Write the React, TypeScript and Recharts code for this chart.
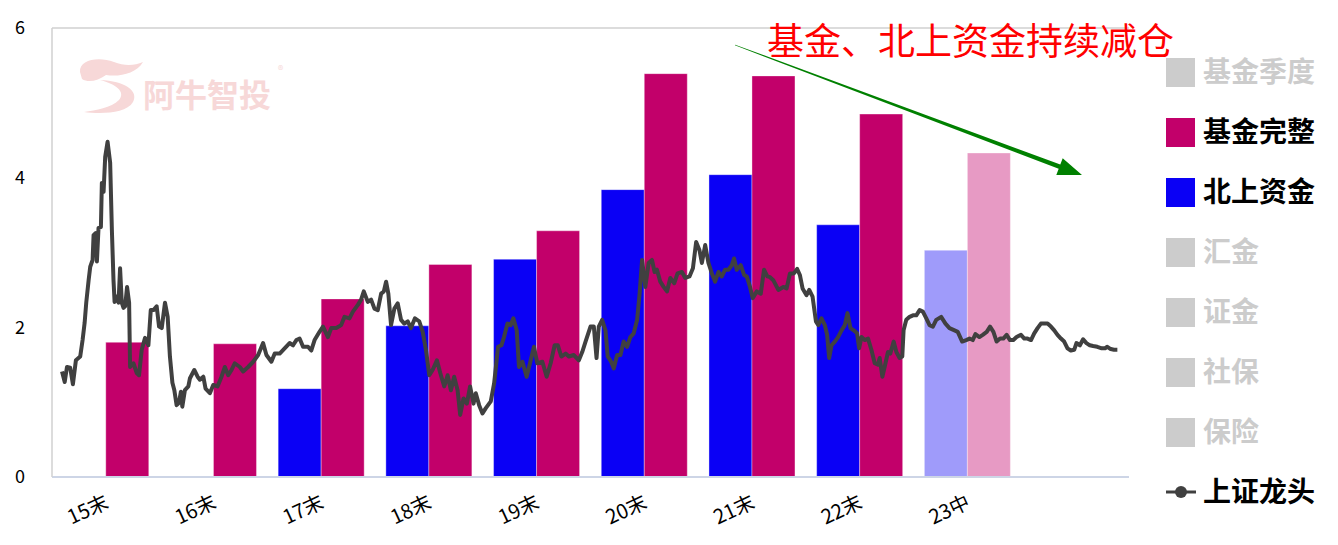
import React from 'react';
import { ComposedChart, Bar, Line, XAxis, YAxis, ReferenceLine, Cell } from 'recharts';

// bar categories (last slot is left empty in the source)
const categories = ['15末', '16末', '17末', '18末', '19末', '20末', '21末', '22末', '23中', ''];
const northbound = [null, null, 1.18, 2.02, 2.91, 3.84, 4.04, 3.37, 3.03, null];
const fundFull = [1.8, 1.78, 2.38, 2.84, 3.29, 5.39, 5.36, 4.85, 4.33, null];
const yTicks = [0, 2, 4, 6];

// 上证龙头: position along the category axis (0 = 15末) and value
const lineT = [
  -0.407, -0.382, -0.361, -0.331, -0.306, -0.278, -0.238, -0.216, -0.197, -0.182,
  -0.16, -0.145, -0.123, -0.114, -0.093, -0.083, -0.068, -0.046, -0.037, -0.021,
  -0.006, 0.016, 0.04, 0.056, 0.071, 0.081, 0.102, 0.118, 0.132, 0.148,
  0.164, 0.179, 0.197, 0.216, 0.225, 0.256, 0.287, 0.308, 0.333, 0.364,
  0.395, 0.417, 0.442, 0.472, 0.494, 0.519, 0.549, 0.574, 0.595, 0.618,
  0.636, 0.657, 0.679, 0.697, 0.71, 0.734, 0.766, 0.781, 0.821, 0.852,
  0.873, 0.905, 0.926, 0.966, 0.997, 1.037, 1.074, 1.105, 1.136, 1.167,
  1.197, 1.244, 1.275, 1.321, 1.368, 1.414, 1.46, 1.491, 1.537, 1.568,
  1.614, 1.66, 1.706, 1.738, 1.769, 1.799, 1.831, 1.877, 1.907, 1.938,
  1.984, 2.016, 2.062, 2.093, 2.139, 2.185, 2.216, 2.262, 2.294, 2.34,
  2.37, 2.395, 2.432, 2.463, 2.494, 2.525, 2.556, 2.581, 2.602, 2.623,
  2.648, 2.679, 2.71, 2.741, 2.771, 2.803, 2.833, 2.87, 2.91, 2.942,
  2.972, 3.003, 3.034, 3.074, 3.105, 3.142, 3.173, 3.204, 3.234, 3.266,
  3.29, 3.321, 3.352, 3.382, 3.414, 3.435, 3.466, 3.497, 3.528, 3.574,
  3.605, 3.642, 3.673, 3.697, 3.729, 3.759, 3.784, 3.815, 3.836, 3.868,
  3.907, 3.938, 3.975, 4.006, 4.053, 4.093, 4.13, 4.167, 4.197, 4.229,
  4.269, 4.299, 4.345, 4.392, 4.423, 4.454, 4.5, 4.531, 4.556, 4.577,
  4.608, 4.639, 4.66, 4.692, 4.716, 4.747, 4.778, 4.808, 4.84, 4.87,
  4.901, 4.933, 4.956, 4.979, 5.009, 5.04, 5.071, 5.095, 5.117, 5.148,
  5.179, 5.21, 5.241, 5.278, 5.308, 5.349, 5.38, 5.419, 5.451, 5.481,
  5.512, 5.534, 5.565, 5.595, 5.627, 5.657, 5.688, 5.719, 5.75, 5.781,
  5.812, 5.833, 5.858, 5.895, 5.926, 5.951, 5.981, 6.006, 6.044, 6.081,
  6.111, 6.142, 6.167, 6.197, 6.244, 6.29, 6.321, 6.352, 6.389, 6.419,
  6.444, 6.469, 6.506, 6.531, 6.562, 6.593, 6.614, 6.645, 6.676, 6.697,
  6.716, 6.738, 6.769, 6.799, 6.831, 6.861, 6.886, 6.914, 6.944, 6.975,
  6.994, 7.016, 7.046, 7.077, 7.108, 7.139, 7.169, 7.185, 7.21, 7.231,
  7.262, 7.284, 7.315, 7.34, 7.37, 7.395, 7.407, 7.432, 7.463, 7.494,
  7.525, 7.556, 7.586, 7.618, 7.648, 7.679, 7.71, 7.756, 7.796, 7.833,
  7.88, 7.91, 7.951, 7.988, 8.019, 8.049, 8.074, 8.111, 8.142, 8.179,
  8.21, 8.241, 8.271, 8.303, 8.333, 8.364, 8.395, 8.426, 8.456, 8.497,
  8.528, 8.558, 8.59, 8.62, 8.651, 8.682, 8.713, 8.744, 8.775, 8.806,
  8.836, 8.868, 8.898, 8.929, 8.96, 8.991, 9.012, 9.044, 9.074, 9.105,
  9.136, 9.167, 9.206, 9.247, 9.278, 9.299, 9.33, 9.361, 9.392,
];
const lineV = [
  1.41, 1.27, 1.47, 1.46, 1.24, 1.56, 1.61, 1.83, 2.06, 2.33,
  2.63, 2.81, 2.9, 3.23, 3.26, 2.88, 3.33, 3.34, 3.93, 3.81,
  4.28, 4.48, 4.2, 3.3, 2.63, 2.34, 2.41, 2.33, 2.79, 2.33,
  2.26, 2.28, 2.54, 2.33, 1.47, 1.52, 1.39, 1.36, 1.7, 1.86,
  1.76, 2.23, 2.23, 2.28, 2.01, 1.99, 2.33, 2.14, 1.61, 1.26,
  1.16, 0.96, 0.99, 1.14, 0.94, 1.16, 1.21, 1.32, 1.43, 1.34,
  1.3, 1.34, 1.18, 1.12, 1.23, 1.21, 1.34, 1.47, 1.36, 1.43,
  1.52, 1.47, 1.41, 1.47, 1.54, 1.63, 1.79, 1.63, 1.54, 1.65,
  1.65, 1.72, 1.79, 1.76, 1.83, 1.85, 1.74, 1.74, 1.69, 1.83,
  1.94, 2.01, 1.87, 1.99, 1.99, 2.03, 2.14, 2.12, 2.21, 2.3,
  2.37, 2.48, 2.34, 2.37, 2.25, 2.23, 2.45, 2.48, 2.61, 2.45,
  2.03, 2.25, 2.32, 2.1, 2.05, 2.08, 1.99, 2.12, 2.08, 1.94,
  1.7, 1.36, 1.43, 1.56, 1.39, 1.21, 1.36, 1.16, 1.34, 1.16,
  0.83, 1.05, 0.98, 1.21, 0.98, 1.12, 0.96, 0.85, 0.92, 1.01,
  1.25, 1.74, 1.76, 1.87, 2.05, 2.03, 2.12, 1.96, 1.47, 1.54,
  1.34, 1.52, 1.74, 1.52, 1.54, 1.34, 1.52, 1.76, 1.76, 1.61,
  1.65, 1.61, 1.63, 1.56, 1.67, 1.81, 2.01, 2.01, 1.59, 2.01,
  2.1, 1.96, 1.61, 1.54, 1.45, 1.63, 1.63, 1.81, 1.74, 1.87,
  1.92, 2.1, 2.45, 2.9, 2.54, 2.86, 2.9, 2.74, 2.77, 2.61,
  2.54, 2.48, 2.66, 2.59, 2.72, 2.74, 2.66, 2.68, 2.79, 3.14,
  3.03, 2.86, 3.1, 2.86, 2.72, 2.61, 2.74, 2.68, 2.77, 2.77,
  2.83, 2.92, 2.77, 2.83, 2.7, 2.68, 2.54, 2.39, 2.48, 2.45,
  2.77, 2.68, 2.67, 2.63, 2.5, 2.54, 2.52, 2.72, 2.72, 2.78,
  2.7, 2.52, 2.43, 2.5, 2.41, 2.08, 2.03, 2.12, 2.03, 1.9,
  1.59, 1.76, 1.81, 1.87, 1.96, 2.03, 2.19, 1.99, 1.96, 1.92,
  1.72, 1.87, 1.83, 1.85, 1.7, 1.52, 1.5, 1.59, 1.34, 1.47,
  1.67, 1.65, 1.81, 1.67, 1.59, 1.61, 1.96, 2.1, 2.14, 2.16,
  2.16, 2.23, 2.21, 2.12, 2.03, 2.01, 2.1, 2.14, 2.05, 1.99,
  1.96, 1.94, 1.81, 1.83, 1.85, 1.83, 1.91, 1.87, 1.9, 1.94,
  2.01, 1.94, 1.81, 1.85, 1.85, 1.9, 1.83, 1.83, 1.87, 1.9,
  1.85, 1.85, 1.83, 1.92, 1.99, 2.05, 2.05, 2.05, 2.01, 1.96,
  1.9, 1.85, 1.81, 1.72, 1.69, 1.7, 1.79, 1.76, 1.84, 1.79,
  1.76, 1.75, 1.74, 1.72, 1.72, 1.74, 1.71, 1.7, 1.7,
];

const legendNames = ['基金季度', '基金完整', '北上资金', '汇金', '证金', '社保', '保险', '上证龙头'];
const legendActive = [false, true, true, false, false, false, false, true];

const FUND = '#c2006a';
const NORTH = '#0a00f5';
const FUND_LIGHT = '#e79ac4';
const NORTH_LIGHT = '#9f9bfa';
const LINE = '#404040';
const FONT = '"Noto Sans CJK SC", "Noto Sans", sans-serif';

const barData = categories.map((name, i) => ({ name, north: northbound[i], fund: fundFull[i] }));
const lineData = lineT.map((t, i) => ({ t, v: lineV[i] }));

const XTick = (props: any) => {
  const { x, y, payload } = props;
  return (
    <g transform={`translate(${x + 4},${y + 22})`}>
      <text textAnchor="end" transform="rotate(-25)" fontSize={20} fill="#000" fontFamily={FONT}>
        {payload.value}
      </text>
    </g>
  );
};

const Overlay = () => {
  return (
    <svg width={1338} height={545} style={{ position: 'absolute', left: 0, top: 0, pointerEvents: 'none' }}>
      {/* watermark */}
      <g fill="#f7d8d8">
        <path d="M80,72 C79,60 98,56 114,62 C124,66 134,66 143,62 C136,74 119,77 106,75 C98,81 88,83 82,79 Z" />
        <path d="M100,80 C116,84 126,92 119,100 C111,108 96,110 84,112 C100,114 126,114 133,102 C139,91 125,81 100,80 Z" />
        <text x={143} y={107} fontSize={32} fontWeight={700} fontFamily={FONT}>阿牛智投</text>
        <text x={278} y={74} fontSize={11} fontFamily={FONT}>®</text>
      </g>
      {/* annotation */}
      <text x={767} y={55} fontSize={37} fill="#ff0000" fontFamily={FONT}>基金、北上资金持续减仓</text>
      <polygon
        fill="#008000"
        points="734.9,45.3 1058.7,168.7 1056.3,175 1082,175 1062.7,158.2 1060.3,164.5 735.1,44.7"
      />
      {/* legend */}
      {legendNames.map((name, i) => {
        const cy = 72 + i * 60;
        const isLine = i === legendNames.length - 1;
        const color = !legendActive[i] ? '#cccccc' : i === 1 ? FUND : i === 2 ? NORTH : LINE;
        return (
          <g key={name}>
            {isLine ? (
              <g>
                <line x1={1166} x2={1196} y1={cy} y2={cy} stroke={LINE} strokeWidth={3} />
                <circle cx={1181} cy={cy} r={6} fill={LINE} />
              </g>
            ) : (
              <rect x={1166} y={cy - 14} width={29} height={29} fill={color} />
            )}
            <text
              x={1203}
              y={cy + 10}
              fontSize={28}
              fontWeight={700}
              fill={legendActive[i] ? '#000' : '#cccccc'}
              fontFamily={FONT}
            >
              {name}
            </text>
          </g>
        );
      })}
    </svg>
  );
};

export default function App() {
  return (
    <div style={{ position: 'absolute', left: 0, top: 0, width: 1338, height: 545, background: '#fff', fontFamily: FONT }}>
      <ComposedChart
        width={1338}
        height={545}
        data={barData}
        margin={{ top: 28, right: 209, bottom: 28, left: 0 }}
        barCategoryGap="10%"
        barGap={0}
      >
        <XAxis
          dataKey="name"
          height={40}
          axisLine={{ stroke: '#cdd5e6', strokeWidth: 2 }}
          tickLine={false}
          tick={<XTick />}
          interval={0}
        />
        <XAxis xAxisId="t" type="number" dataKey="t" domain={[-0.5, 9.5]} hide allowDataOverflow />
        <YAxis
          width={52}
          domain={[0, 6]}
          ticks={yTicks}
          axisLine={{ stroke: '#d0d0d0', strokeWidth: 1.5 }}
          tickLine={false}
          tickMargin={21}
          tick={{ fontSize: 18, fill: '#000', fontFamily: FONT }}
        />
        <YAxis
          yAxisId="r"
          orientation="right"
          width={0}
          domain={[0, 6]}
          tick={false}
          tickLine={false}
          axisLine={{ stroke: '#d0d0d0', strokeWidth: 1.5 }}
        />
        <ReferenceLine y={6} stroke="#d0d0d0" strokeWidth={1.5} />
        <Bar dataKey="north" name="北上资金" fill={NORTH} stroke="rgba(255,255,255,0.35)" isAnimationActive={false}>
          {barData.map((d, i) => (
            <Cell key={`n-${i}`} fill={d.name === '23中' ? NORTH_LIGHT : NORTH} />
          ))}
        </Bar>
        <Bar dataKey="fund" name="基金完整" fill={FUND} stroke="rgba(255,255,255,0.35)" isAnimationActive={false}>
          {barData.map((d, i) => (
            <Cell key={`f-${i}`} fill={d.name === '23中' ? FUND_LIGHT : FUND} />
          ))}
        </Bar>
        <Line
          data={lineData}
          xAxisId="t"
          dataKey="v"
          name="上证龙头"
          type="linear"
          stroke={LINE}
          strokeWidth={4}
          strokeLinejoin="round"
          dot={false}
          activeDot={false}
          isAnimationActive={false}
        />
      </ComposedChart>
      <Overlay />
    </div>
  );
}
